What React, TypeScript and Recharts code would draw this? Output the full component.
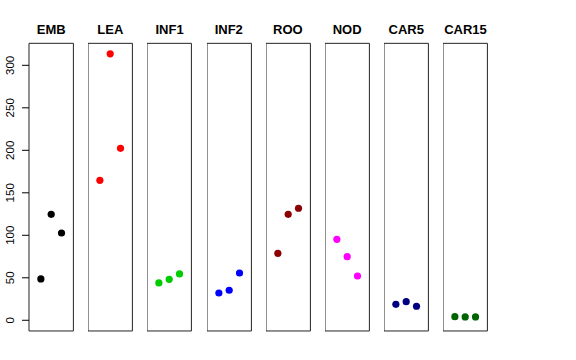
import React from "react";
import { ScatterChart, Scatter, XAxis, YAxis, ReferenceArea } from "recharts";

const categories = ["EMB", "LEA", "INF1", "INF2", "ROO", "NOD", "CAR5", "CAR15"];
const embValues = [48.6, 124.7, 102.7];
const leaValues = [164.7, 313.6, 202.3];
const inf1Values = [43.9, 48.2, 54.5];
const inf2Values = [32.1, 35.3, 55.6];
const rooValues = [78.8, 124.7, 131.8];
const nodValues = [95.3, 74.8, 52.1];
const car5Values = [18.8, 21.9, 16.5];
const car15Values = [4.2, 3.9, 3.9];
const seriesValues = [embValues, leaValues, inf1Values, inf2Values, rooValues, nodValues, car5Values, car15Values];
const colors = ["#000000", "#FF0000", "#00CD00", "#0000FF", "#8B0000", "#FF00FF", "#000080", "#006400"];
const yTicks = [0, 50, 100, 150, 200, 250, 300];
const replicates = [1, 2, 3];

const X_DOMAIN: [number, number] = [-0.15, 4.15];
const Y_DOMAIN: [number, number] = [-12.6, 325.9];
const PANEL_LEFT0 = 29;
const PANEL_STEP = 59.18;
const PANEL_W = 44.4;
const TOP = 43.3;
const PLOT_H = 287.7;
const FONT = "'Liberation Sans', Arial, Helvetica, sans-serif";

const YTick = (props: any) => {
  const { y, payload } = props;
  return (
    <text
      transform={`translate(14.5, ${y}) rotate(-90)`}
      textAnchor="middle"
      fontSize={11.5}
      fontFamily={FONT}
      fill="#000"
    >
      {payload.value}
    </text>
  );
};

function Panel({ index }: { index: number }) {
  const first = index === 0;
  const yAxisW = first ? PANEL_LEFT0 : 0;
  const left = first ? 0 : PANEL_LEFT0 + PANEL_STEP * index;
  const data = replicates.map((r, i) => ({ x: r, y: seriesValues[index][i] }));
  const color = colors[index];
  return (
    <div style={{ position: "absolute", left, top: 0 }}>
      <ScatterChart
        width={PANEL_W + yAxisW + 1}
        height={360}
        margin={{ top: TOP, bottom: 360 - TOP - PLOT_H, left: 0, right: 1 }}
      >
        <XAxis type="number" dataKey="x" domain={X_DOMAIN} hide allowDataOverflow />
        <YAxis
          type="number"
          dataKey="y"
          domain={Y_DOMAIN}
          ticks={yTicks}
          hide={!first}
          width={yAxisW}
          axisLine={false}
          tickLine={{ stroke: "#000" }}
          tickSize={7}
          tick={<YTick />}
          allowDataOverflow
          interval={0}
        />
        <ReferenceArea
          x1={X_DOMAIN[0]}
          x2={X_DOMAIN[1]}
          y1={Y_DOMAIN[0]}
          y2={Y_DOMAIN[1]}
          fill="none"
          stroke="#222"
          strokeWidth={1}
          ifOverflow="visible"
        />
        <Scatter
          data={data}
          fill={color}
          isAnimationActive={false}
          shape={(p: any) => <circle cx={p.cx} cy={p.cy} r={3.6} fill={color} />}
        />
      </ScatterChart>
      <div
        style={{
          position: "absolute",
          left: yAxisW,
          top: 23,
          width: PANEL_W,
          textAlign: "center",
          fontFamily: FONT,
          fontWeight: "bold",
          fontSize: 13,
          lineHeight: "13px",
          whiteSpace: "nowrap",
          color: "#000",
        }}
      >
        {categories[index]}
      </div>
    </div>
  );
}

export default function App() {
  return (
    <div style={{ position: "absolute", left: 0, top: 0, width: 576, height: 360, background: "#fff" }}>
      {categories.map((c, i) => (
        <Panel key={c} index={i} />
      ))}
    </div>
  );
}
